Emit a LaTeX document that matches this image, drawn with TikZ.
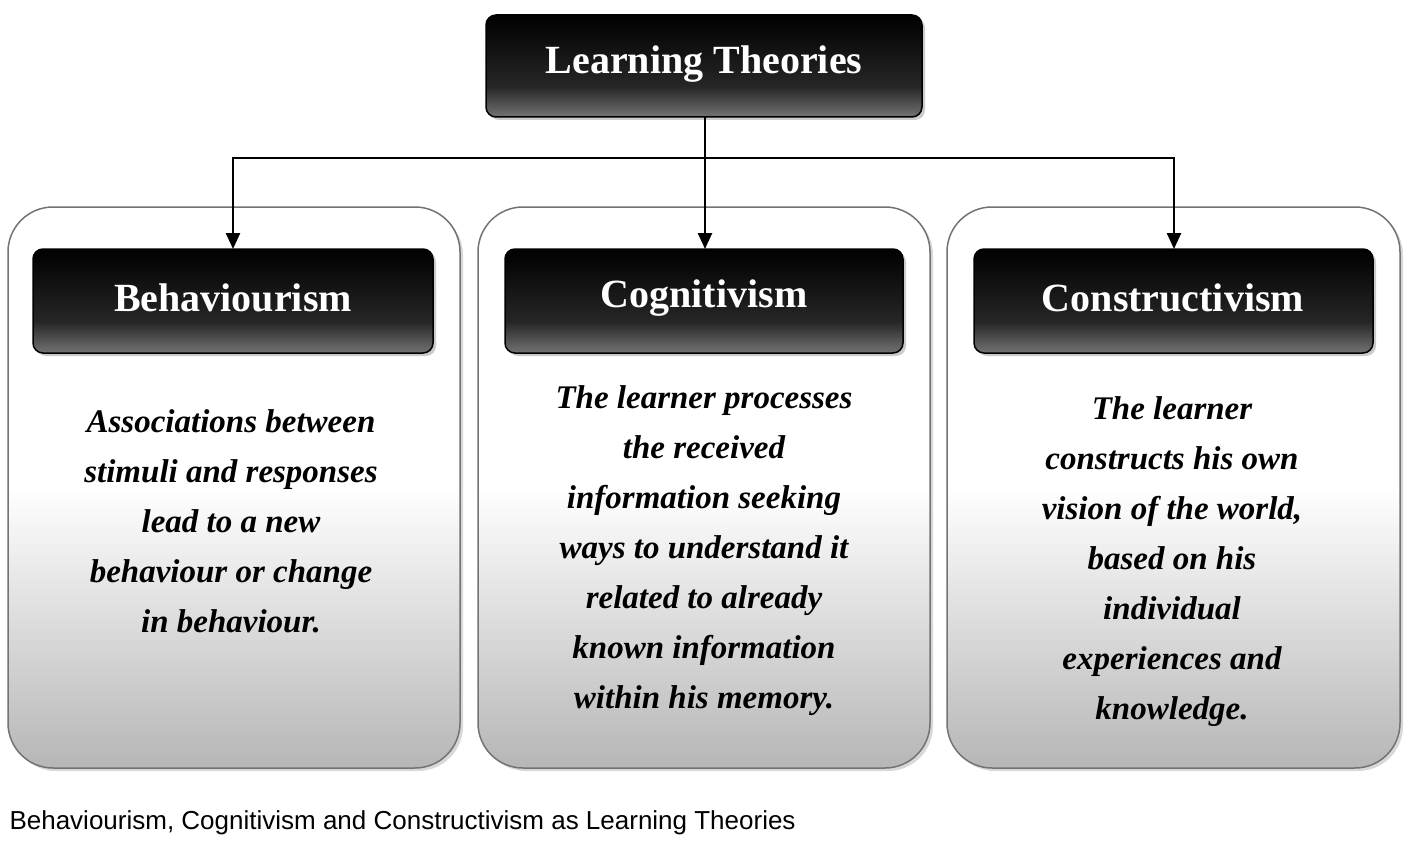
\documentclass[tikz,border=0pt]{standalone}
\usepackage{fontspec}
\setmainfont{Liberation Serif}
\newfontfamily\capfont{Liberation Sans}
\usetikzlibrary{shadows,arrows.meta}
\pgfdeclareverticalshading{panelsh}{100bp}{color(0bp)=(black!40); color(15bp)=(black!40); color(50bp)=(white); color(100bp)=(white)}
\pgfdeclareverticalshading{darksh}{100bp}{color(0bp)=(black!55); color(25bp)=(black!55); color(40bp)=(black!85); color(75bp)=(black); color(100bp)=(black)}
\tikzset{
 panel/.style={draw=black!55,line width=1.5pt,rounded corners=45pt,shading=panelsh,drop shadow={shadow xshift=3pt,shadow yshift=-3pt,fill=black!30}},
 darkbox/.style={draw=black,line width=1.5pt,rounded corners=10pt,shading=darksh,drop shadow={shadow xshift=3pt,shadow yshift=-3pt,fill=black!40}},
 headtxt/.style={text=white,font=\fontsize{40}{44}\selectfont\bfseries},
 bodytxt/.style={align=center,font=\fontsize{33}{50}\selectfont\bfseries\itshape},
 conn/.style={line width=2.5pt,-{Triangle[length=16pt,width=14pt]}}
}
\begin{document}
\begin{tikzpicture}[x=1pt,y=-1pt]
\useasboundingbox (0,0) rectangle (1422,864);
\fill[white] (0,0) rectangle (1422,864);
\path[panel] (8,207) rectangle (460,768);
\path[panel] (478,207) rectangle (930,768);
\path[panel] (947,207) rectangle (1400,768);
\path[darkbox] (486,15) rectangle (922,117);
\node[headtxt] (top) at (704,64) {Learning Theories};
\path[darkbox] (33,249) rectangle (433,353);
\path[darkbox] (505,249) rectangle (903,353);
\path[darkbox] (974,249) rectangle (1373,353);
\node[headtxt] (b) at (233,298) {Behaviourism};
\node[headtxt] (c) at (704,298) {Cognitivism};
\node[headtxt] (k) at (1173,298) {Constructivism};
\coordinate (tb) at (705,117);
\coordinate (j) at (705,158);
\coordinate (bt) at (233,249);
\coordinate (ct) at (705,249);
\coordinate (kt) at (1174,249);
\draw[line width=2.5pt] (tb) -- (j);
\draw[conn] (j) -| (bt);
\draw[conn] (j) -- (ct);
\draw[conn] (j) -| (kt);
\node[bodytxt] (bt1) at (231,521) {Associations between\\stimuli and responses\\lead to a new\\behaviour or change\\in behaviour.};
\node[bodytxt] (ct1) at (704,551) {The learner processes\\the received\\information seeking\\ways to understand it\\related to already\\known information\\within his memory.};
\node[bodytxt] (kt1) at (1172,562) {The learner\\constructs his own\\vision of the world,\\based on his\\individual\\experiences and\\knowledge.};
\node[anchor=west,font=\capfont\fontsize{26}{30}\selectfont] (cap) at (6,823) {Behaviourism, Cognitivism and Constructivism as Learning Theories};
\end{tikzpicture}
\end{document}
